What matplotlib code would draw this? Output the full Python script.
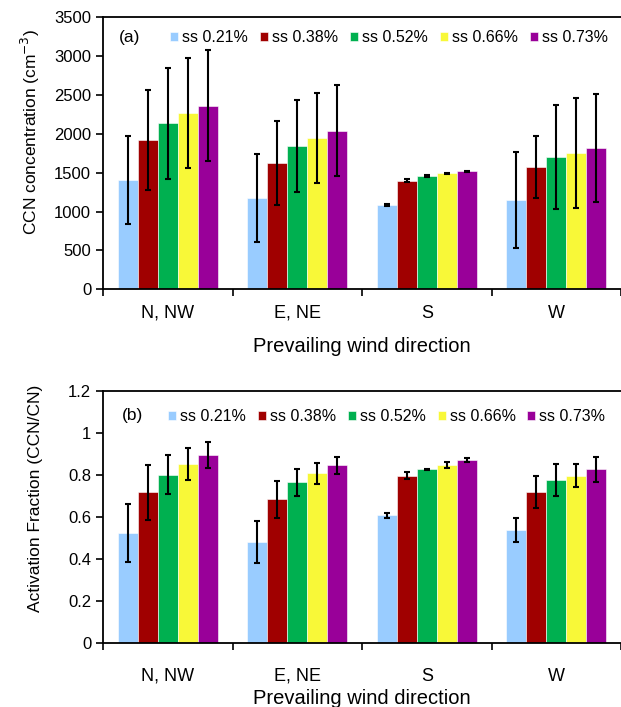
import numpy as np
import matplotlib
matplotlib.use('Agg')
import matplotlib.pyplot as plt

plt.rcParams['font.family'] = ['Liberation Sans', 'DejaVu Sans']

directions = ['N, NW', 'E, NE', 'S', 'W']
ss_labels = ['ss 0.21%', 'ss 0.38%', 'ss 0.52%', 'ss 0.66%', 'ss 0.73%']
colors = ['#99CCFF', '#A00000', '#00B050', '#F8F838', '#990099']

# CCN concentration (cm-3), rows = supersaturation, cols = wind direction
ccn = [[1406, 1175, 1085, 1149],
       [1921, 1629, 1398, 1570],
       [2136, 1844, 1458, 1699],
       [2265, 1943, 1493, 1750],
       [2363, 2041, 1518, 1818]]
ccn_err = [[562, 565, 13, 618],
           [648, 543, 20, 401],
           [714, 592, 10, 671],
           [710, 577, 8, 710],
           [715, 588, 10, 695]]

# activation fraction CCN/CN
af = [[0.524, 0.479, 0.606, 0.537],
      [0.716, 0.683, 0.795, 0.719],
      [0.800, 0.763, 0.825, 0.773],
      [0.851, 0.806, 0.846, 0.794],
      [0.892, 0.844, 0.870, 0.825]]
af_err = [[0.138, 0.099, 0.011, 0.057],
          [0.130, 0.089, 0.016, 0.077],
          [0.094, 0.065, 0.003, 0.076],
          [0.075, 0.050, 0.016, 0.055],
          [0.062, 0.042, 0.008, 0.059]]


def bar_panel(ax, values, errors, ymax, ystep, tag, ylabel,
              tick_pad, label_pad, ylabel_xy, tag_xy, leg_xy):
    x = np.arange(len(directions))
    w = 0.155
    handles = []
    for i in range(len(ss_labels)):
        b = ax.bar(x + (i - 2) * w, values[i], w, color=colors[i],
                   edgecolor='white', linewidth=0.4, label=ss_labels[i],
                   yerr=errors[i], capsize=2.2,
                   error_kw=dict(ecolor='black', elinewidth=1.5, capthick=1.5))
        handles.append(b)
    ax.set_xlim(-0.5, len(directions) - 0.5)
    ax.set_ylim(0, ymax)
    ax.set_yticks(np.arange(0, ymax + ystep / 2, ystep))
    # category boundaries get the ticks, names sit in between
    ax.set_xticks(np.arange(-0.5, len(directions), 1.0))
    ax.set_xticklabels([])
    ax.set_xticks(x, minor=True)
    ax.set_xticklabels(directions, minor=True, fontsize=13)
    ax.tick_params(axis='x', which='minor', length=0, pad=tick_pad)
    ax.tick_params(axis='x', which='major', direction='out', length=5, width=1.2)
    ax.tick_params(axis='y', direction='out', length=5, width=1.2, labelsize=12)
    for s in ['left', 'bottom', 'top']:
        ax.spines[s].set_linewidth(1.3)
    ax.spines['right'].set_visible(False)
    ax.set_xlabel('Prevailing wind direction', fontsize=14.5, labelpad=label_pad)
    ax.set_ylabel(ylabel, fontsize=12.5)
    ax.yaxis.set_label_coords(*ylabel_xy)
    ax.text(tag_xy[0], tag_xy[1], tag, transform=ax.transAxes, fontsize=12.5,
            va='center')
    ax.legend(handles=handles, ncol=5, frameon=False, fontsize=11.5,
              loc='center left', bbox_to_anchor=leg_xy,
              handlelength=0.5, handleheight=0.5, handletextpad=0.25,
              columnspacing=0.75, borderpad=0, borderaxespad=0)


fig = plt.figure(figsize=(6.21, 7.07), dpi=100)
ax1 = fig.add_axes([0.1659, 0.5908, 0.8341, 0.3847])
ax2 = fig.add_axes([0.1659, 0.0910, 0.8341, 0.3564])

bar_panel(ax1, ccn, ccn_err, 3500, 500, '(a)', 'CCN concentration (cm$^{-3}$)',
          tick_pad=11, label_pad=11, ylabel_xy=(-0.118, 0.58),
          tag_xy=(0.031, 0.924), leg_xy=(0.129, 0.924))
bar_panel(ax2, af, af_err, 1.2, 0.2, '(b)', 'Activation Fraction (CCN/CN)',
          tick_pad=18, label_pad=3, ylabel_xy=(-0.115, 0.572),
          tag_xy=(0.036, 0.90), leg_xy=(0.125, 0.897))
ax2.set_yticklabels(['0', '0.2', '0.4', '0.6', '0.8', '1', '1.2'])

fig.savefig('out.png', dpi=100)
